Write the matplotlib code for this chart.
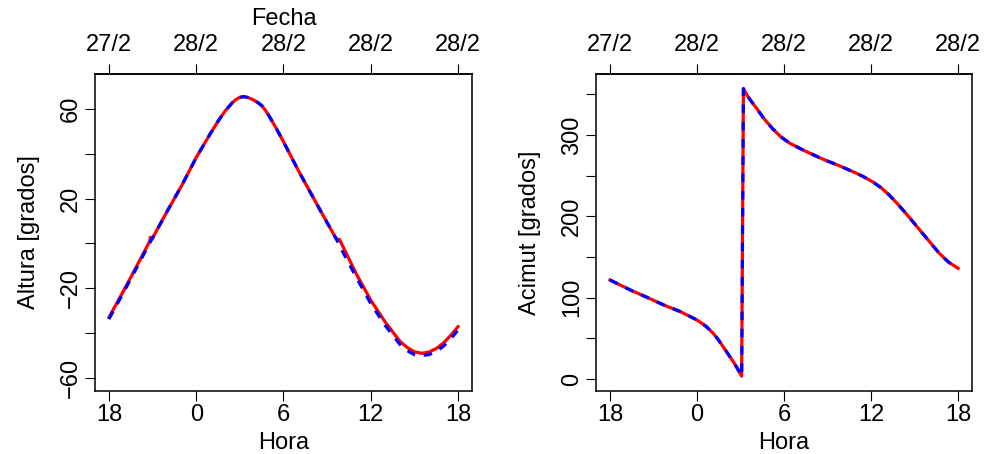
import matplotlib
matplotlib.use("Agg")
import matplotlib.pyplot as plt

plt.rcParams['font.family'] = ['Liberation Sans', 'DejaVu Sans']
plt.rcParams['font.size'] = 17

# Hours are counted from 27/2 00:00 (18 -> 27/2 18h, 42 -> 28/2 18h)
ticks_hora = [18, 24, 30, 36, 42]
etiq_hora = ['18', '0', '6', '12', '18']
etiq_fecha = ['27/2', '28/2', '28/2', '28/2', '28/2']

# Altura, red curve
horas_alt_rojo = [18.0, 19.0, 20.0, 20.8, 20.85, 20.97, 21.1, 22.0, 23.0, 24.0,
                  25.0, 25.5, 26.0, 26.5, 26.75, 27.0, 27.25, 27.5, 27.75, 28.0,
                  28.25, 28.5, 28.75, 29.0, 29.5, 30.0, 31.0, 32.0, 33.0, 33.65,
                  33.85, 34.0, 35.0, 36.0, 37.0, 38.0, 38.5, 39.0, 39.5, 40.0,
                  40.5, 41.0, 41.5, 42.0]
altura_rojo = [-33.0, -21.2, -9.0, 0.9, 2.8, 2.2, 3.6, 14.3, 25.8, 38.3,
               49.3, 54.5, 59.2, 62.9, 64.3, 65.2, 65.5, 65.2, 64.6, 63.8,
               62.8, 61.5, 59.5, 57.0, 51.4, 45.4, 32.8, 21.0, 9.3, 1.8,
               1.8, -0.2, -13.5, -25.3, -35.1, -43.6, -46.4, -48.3, -49.0, -48.4,
               -46.9, -44.4, -41.0, -37.1]

# Altura, blue dashed curve
horas_alt_azul = [18.0, 19.0, 20.0, 20.8, 21.1, 22.0, 23.0, 24.0, 25.0, 25.5,
                  26.0, 26.5, 26.75, 27.0, 27.25, 27.5, 27.75, 28.0, 28.25, 28.5,
                  28.75, 29.0, 29.5, 30.0, 31.0, 32.0, 33.0, 33.65, 34.0, 35.0,
                  36.0, 37.0, 38.0, 38.5, 39.0, 39.4, 40.0, 40.5, 41.0, 41.5,
                  42.0]
altura_azul = [-33.7, -21.9, -9.7, 0.2, 3.6, 14.3, 25.8, 38.3, 49.3, 54.5,
               59.2, 62.9, 64.3, 65.2, 65.5, 65.2, 64.6, 63.8, 62.8, 61.5,
               59.5, 57.0, 51.4, 45.4, 32.8, 21.0, 9.3, 1.8, -2.8, -15.0,
               -26.8, -36.6, -45.0, -47.8, -49.6, -50.0, -49.6, -48.2, -45.8, -42.5,
               -38.6]

# Acimut, both curves practically coincide
horas_az = [18.0, 19.4, 20.55, 21.7, 22.85, 24.0, 24.6, 25.1, 25.45, 25.8,
            26.5, 26.8, 27.08, 27.2, 27.5, 27.8, 28.1, 28.6, 29.25, 29.8,
            30.4, 31.0, 31.55, 32.7, 33.85, 35.0, 35.5, 36.1, 36.7, 37.25,
            37.8, 38.4, 39.55, 40.7, 41.35, 42.0]
acimut_rojo = [121.7, 109.4, 100.4, 91.0, 82.8, 72.5, 65.0, 56.5, 48.8, 39.7,
               21.3, 12.5, 3.5, 357.0, 347.5, 340.0, 333.0, 320.5, 307.0, 297.5,
               289.8, 284.3, 279.5, 270.1, 261.9, 252.9, 248.5, 242.6, 235.0, 226.2,
               215.8, 203.7, 179.1, 154.6, 143.5, 136.1]
acimut_azul = [121.7, 109.4, 100.4, 91.0, 82.8, 72.5, 65.0, 56.5, 48.8, 39.7,
               21.3, 12.5, 3.5, 357.0, 347.5, 340.0, 333.0, 320.5, 307.0, 297.5,
               289.8, 284.3, 279.5, 270.1, 261.9, 252.9, 248.5, 242.6, 235.0, 226.2,
               215.8, 203.7, 179.1, 154.6, 143.5, 136.1]

M = '\u2212'


def estilo(ax, yticks, ylabels, ylim, ylabel, fecha_titulo):
    ax.set_xlim(17.04, 42.96)
    ax.set_ylim(*ylim)
    ax.set_xticks(ticks_hora, etiq_hora)
    ax.set_yticks(yticks, ylabels)
    for lab in ax.get_yticklabels():
        lab.set_rotation(90)
        lab.set_va('center')
    ax.tick_params(direction='out', length=7.2, width=0.8, pad=2)
    ax.set_xlabel('Hora', labelpad=4.8)
    ax.set_ylabel(ylabel, labelpad=14.5)
    for s in ax.spines.values():
        s.set_linewidth(1.1)
    top = ax.secondary_xaxis('top')
    top.set_xticks(ticks_hora, etiq_fecha)
    top.tick_params(direction='out', length=7.2, width=0.8, pad=5.6)
    top.spines['top'].set_linewidth(1.1)
    if fecha_titulo:
        top.set_xlabel('Fecha', labelpad=7)


fig = plt.figure(figsize=(9.86, 4.54), dpi=100)
ax1 = fig.add_axes([0.0963, 0.1388, 0.3824, 0.6982])
ax2 = fig.add_axes([0.6045, 0.1388, 0.3813, 0.6982])

ax1.plot(horas_alt_rojo, altura_rojo, color='red', lw=2.3)
ax1.plot(horas_alt_azul, altura_azul, color='blue', lw=2.3, ls=(0, (2.7, 2.7)))
estilo(ax1, [-60, -40, -20, 0, 20, 40, 60],
       [M + '60', '', M + '20', '', '20', '', '60'],
       (-65.8, 75.6), 'Altura [grados]', True)

ax2.plot(horas_az, acimut_rojo, color='red', lw=2.3)
ax2.plot(horas_az, acimut_azul, color='blue', lw=2.3, ls=(0, (2.7, 2.7)))
estilo(ax2, [0, 50, 100, 150, 200, 250, 300, 350],
       ['0', '', '100', '', '200', '', '300', ''],
       (-14.8, 375), 'Acimut [grados]', False)

fig.savefig('out.png', dpi=100)
